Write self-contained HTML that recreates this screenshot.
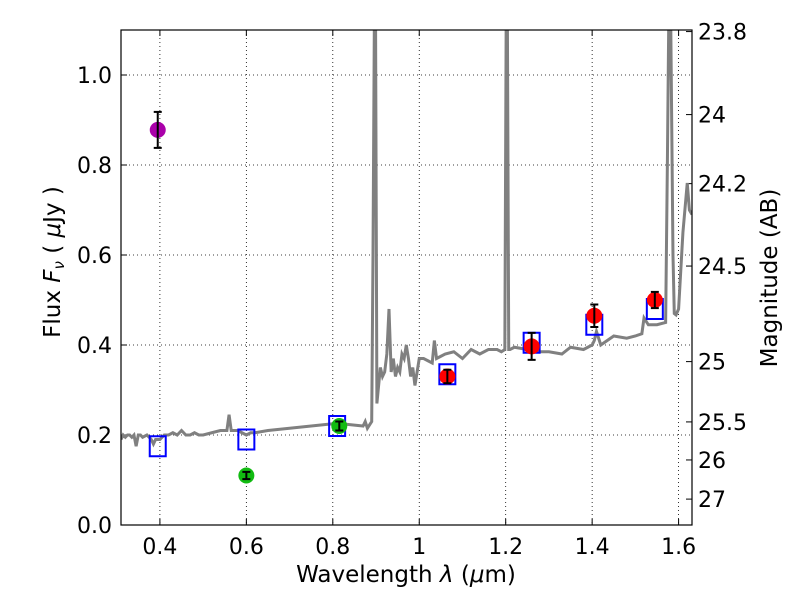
<!DOCTYPE html>
<html><head><meta charset="utf-8"><style>
body{margin:0;background:#fff;}
svg text{font-family:"DejaVu Sans","Liberation Sans",sans-serif;}
</style></head><body>
<svg id="chart" width="800" height="600"></svg>
<script>
const specWave=[0.31,0.315,0.32,0.325,0.33,0.335,0.34,0.345,0.35,0.355,0.36,0.37,0.38,0.385,0.39,0.40,0.41,0.42,0.43,0.44,0.45,0.46,0.47,0.48,0.49,0.5,0.52,0.54,0.555,0.56,0.565,0.58,0.6,0.61,0.62,0.65,0.7,0.75,0.8,0.82,0.85,0.87,0.875,0.88,0.89,0.893,0.896,0.899,0.902,0.905,0.91,0.915,0.92,0.925,0.93,0.935,0.94,0.945,0.95,0.955,0.96,0.965,0.97,0.975,0.98,0.985,0.99,1.0,1.01,1.02,1.03,1.035,1.04,1.06,1.08,1.1,1.12,1.14,1.16,1.18,1.19,1.198,1.201,1.204,1.207,1.21,1.22,1.25,1.27,1.3,1.33,1.35,1.38,1.4,1.405,1.41,1.42,1.45,1.48,1.5,1.515,1.52,1.53,1.55,1.57,1.574,1.577,1.582,1.587,1.59,1.594,1.6,1.61,1.62,1.625,1.631];
const specFlux=[0.19,0.2,0.195,0.2,0.2,0.195,0.2,0.175,0.2,0.2,0.195,0.2,0.19,0.18,0.19,0.19,0.2,0.2,0.205,0.2,0.21,0.2,0.2,0.205,0.2,0.2,0.205,0.21,0.21,0.245,0.21,0.21,0.2,0.205,0.205,0.21,0.215,0.22,0.225,0.225,0.222,0.22,0.23,0.215,0.23,0.6,1.1,1.1,0.27,0.3,0.35,0.33,0.34,0.38,0.48,0.34,0.37,0.33,0.35,0.34,0.38,0.37,0.4,0.37,0.33,0.35,0.31,0.37,0.37,0.365,0.36,0.41,0.37,0.38,0.385,0.37,0.39,0.38,0.39,0.39,0.385,0.39,1.1,1.1,0.39,0.39,0.395,0.39,0.385,0.385,0.38,0.395,0.39,0.4,0.41,0.43,0.4,0.42,0.415,0.42,0.425,0.46,0.445,0.445,0.45,0.8,1.1,1.1,0.6,0.47,0.467,0.48,0.65,0.76,0.7,0.69];
const modelWave=[0.395,0.6,0.81,1.065,1.26,1.405,1.545];
const modelFlux=[0.175,0.19,0.22,0.335,0.405,0.445,0.48];
const redWave=[1.065,1.26,1.405,1.545];
const redFlux=[0.33,0.397,0.465,0.50];
const redErr=[0.015,0.03,0.025,0.018];
const greenWave=[0.6,0.815];
const greenFlux=[0.11,0.22];
const greenErr=[0.008,0.01];
const purpleWave=[0.395];
const purpleFlux=[0.878];
const purpleErr=[0.04];
const xTicks=[0.4,0.6,0.8,1.0,1.2,1.4,1.6];
const xTickLabels=["0.4","0.6","0.8","1","1.2","1.4","1.6"];
const yTicks=[0,0.2,0.4,0.6,0.8,1.0];
const yTickLabels=["0.0","0.2","0.4","0.6","0.8","1.0"];
const magTicks=[23.8,24,24.2,24.5,25,25.5,26,27];
const magLabels=["23.8","24","24.2","24.5","25","25.5","26","27"];

const L=121,R=692,T=30,B=525,X0=0.31,X1=1.631,Y0=0,Y1=1.1;
const sx=v=>L+(v-X0)/(X1-X0)*(R-L);
const sy=v=>B-(v-Y0)/(Y1-Y0)*(B-T);
const svg=document.getElementById('chart');
const NS='http://www.w3.org/2000/svg';
function mk(tag,attrs,parent){const e=document.createElementNS(NS,tag);for(const k in attrs)e.setAttribute(k,attrs[k]);(parent||svg).appendChild(e);return e;}
const clip=mk('clipPath',{id:'c'});mk('rect',{x:L,y:T,width:R-L,height:B-T},clip);
xTicks.forEach((t,i)=>{
 const g=mk('line',{x1:sx(t),x2:sx(t),y1:T,y2:B,stroke:'#000','stroke-width':0.8,'stroke-dasharray':'1,3'});
 
 
 mk('line',{x1:sx(t),x2:sx(t),y1:B,y2:B-6,stroke:'#000'});
 mk('line',{x1:sx(t),x2:sx(t),y1:T,y2:T+6,stroke:'#000'});
 const tx=mk('text',{x:sx(t),y:B+29,'text-anchor':'middle','font-size':22});tx.textContent=xTickLabels[i];
 
 
});
yTicks.forEach((t,i)=>{
 const g=mk('line',{x1:L,x2:R,y1:sy(t),y2:sy(t),stroke:'#000','stroke-width':0.8,'stroke-dasharray':'1,3'});
 
 
 mk('line',{x1:L,x2:L+6,y1:sy(t),y2:sy(t),stroke:'#000'});
 const tx=mk('text',{x:L-9,y:sy(t)+8,'text-anchor':'end','font-size':22});tx.textContent=yTickLabels[i];
 
 
});
magTicks.forEach((m,i)=>{
 const f=Math.pow(10,(23.9-m)/2.5);
 mk('line',{x1:R-6,x2:R,y1:sy(f),y2:sy(f),stroke:'#000'});
 const tx=mk('text',{x:R+6,y:sy(f)+8,'font-size':22});tx.textContent=magLabels[i];
 
 
});
const p=mk('polyline',{points:specWave.map((w,i)=>sx(w)+','+sy(specFlux[i])).join(' '),fill:'none',stroke:'#808080','stroke-width':3,'clip-path':'url(#c)'});


modelWave.forEach((w,i)=>{
 const r=mk('rect',{x:sx(w)-8,y:sy(modelFlux[i])-10,width:16,height:20,fill:'none',stroke:'#0000ff','stroke-width':2});
 
 
});
function pts(ws,fs,es,col,r,name){ws.forEach((w,i)=>{
 const c=mk('circle',{cx:sx(w),cy:sy(fs[i]),r:r,fill:col});
 
 
 const x=sx(w),y1=sy(fs[i]+es[i]),y2=sy(fs[i]-es[i]);
 mk('line',{x1:x,x2:x,y1:y1,y2:y2,stroke:'#000','stroke-width':2});
 mk('line',{x1:x-4,x2:x+4,y1:y1,y2:y1,stroke:'#000','stroke-width':2});
 mk('line',{x1:x-4,x2:x+4,y1:y2,y2:y2,stroke:'#000','stroke-width':2});
});}
pts(redWave,redFlux,redErr,'#ff0000',8,'nir-photometry-point');
pts(greenWave,greenFlux,greenErr,'#11bb11',8,'optical-photometry-point');
pts(purpleWave,purpleFlux,purpleErr,'#aa00aa',8,'uv-photometry-point');
mk('rect',{x:L,y:T,width:R-L,height:B-T,fill:'none',stroke:'#000','stroke-width':1.2});
let t=mk('text',{x:406,y:582,'text-anchor':'middle','font-size':23});t.innerHTML='Wavelength  <tspan font-style="italic">λ</tspan> (<tspan font-style="italic">μ</tspan>m)';

t=mk('text',{x:0,y:0,'text-anchor':'middle','font-size':23,transform:'translate(60,262) rotate(-90)'});t.innerHTML='Flux  <tspan font-style="italic">F</tspan><tspan font-style="italic" font-size="15" dy="4">ν</tspan><tspan dy="-4">  (  </tspan><tspan font-style="italic">μ</tspan>Jy )';

t=mk('text',{x:0,y:0,'text-anchor':'middle','font-size':23,transform:'translate(777,278) rotate(-90)'});t.textContent='Magnitude (AB)';

</script>
</body></html>
